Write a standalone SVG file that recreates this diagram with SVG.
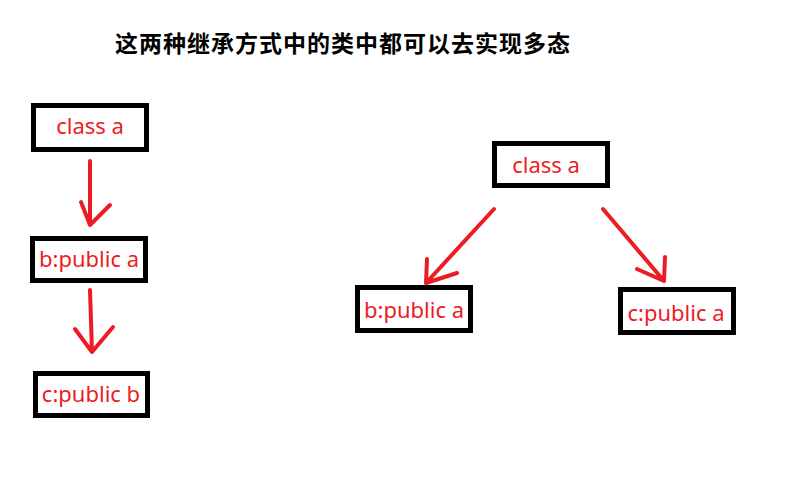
<svg xmlns="http://www.w3.org/2000/svg" width="787" height="497" viewBox="0 0 787 497">
<style>
.box{fill:#fff;stroke:#000;stroke-width:5}
.lbl{font-family:"Noto Sans","Open Sans",sans-serif;font-size:22px;fill:#ed1c24}
.ar{fill:none;stroke:#ed1c24;stroke-width:4;stroke-linecap:round;stroke-linejoin:round}
.title{font-family:"Noto Sans CJK SC",sans-serif;font-size:23px;font-weight:bold;fill:#000}
</style>
<rect width="787" height="497" fill="#fff"/>
<text class="title" x="115" y="52" textLength="455" lengthAdjust="spacing">这两种继承方式中的类中都可以去实现多态</text>
<g id="l_a"><rect class="box" x="33.5" y="105.5" width="113" height="44"/><text class="lbl" x="90" y="134" text-anchor="middle">class a</text></g>
<g id="l_b"><rect class="box" x="32.5" y="238.5" width="113" height="42"/><text class="lbl" x="89" y="267" text-anchor="middle">b:public a</text></g>
<g id="l_c"><rect class="box" x="35.5" y="373.5" width="112" height="42"/><text class="lbl" x="91" y="402" text-anchor="middle">c:public b</text></g>
<g id="r_a"><rect class="box" x="494.5" y="143.5" width="113" height="42"/><text class="lbl" x="546" y="173" text-anchor="middle">class a</text></g>
<g id="r_b"><rect class="box" x="357.5" y="287.5" width="113" height="43"/><text class="lbl" x="414" y="318" text-anchor="middle">b:public a</text></g>
<g id="r_c"><rect class="box" x="620.5" y="289.5" width="113" height="43"/><text class="lbl" x="676" y="321" text-anchor="middle">c:public a</text></g>
<g id="connectors">
<path class="ar" d="M90,161 L90,225 M81,202 L90,225 L110,205"/>
<path class="ar" d="M90,290 L92,352 M75,329 L92,352 L113,327"/>
<path class="ar" d="M494,209 L426,283 M427,259 L426,283 L457,273"/>
<path class="ar" d="M603,209 L664,281 M637,269 L664,281 L665,257"/>
</g>
</svg>
